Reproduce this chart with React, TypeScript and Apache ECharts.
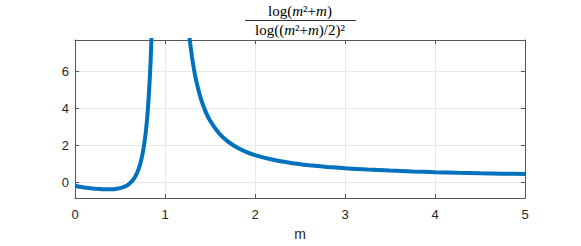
import React, { useEffect, useRef } from "react";
import * as echarts from "echarts";

// Left branch (m < 1)
const leftM = [0.005, 0.01, 0.02, 0.05, 0.1, 0.15, 0.2, 0.25, 0.3, 0.35, 0.4, 0.45, 0.5, 0.55, 0.6, 0.625, 0.65, 0.675, 0.7, 0.725, 0.75, 0.77, 0.79, 0.81, 0.83, 0.84, 0.85, 0.86];
const leftF = [-0.148, -0.164, -0.185, -0.222, -0.262, -0.293, -0.317, -0.338, -0.352, -0.36, -0.358, -0.34, -0.299, -0.22, -0.076, 0.034, 0.18, 0.377, 0.646, 1.015, 1.533, 2.104, 2.883, 3.968, 5.523, 6.555, 7.83, 9.41];
// Right branch (m > 1)
const rightM = [1.26, 1.27, 1.28, 1.3, 1.325, 1.35, 1.4, 1.45, 1.5, 1.6, 1.7, 1.8, 1.9, 2.0, 2.2, 2.4, 2.6, 2.8, 3.0, 3.25, 3.5, 3.75, 4.0, 4.25, 4.5, 4.75, 5.0];
const rightF = [8.38, 7.92, 7.5, 6.774, 6.029, 5.424, 4.503, 3.841, 3.345, 2.658, 2.208, 1.893, 1.662, 1.485, 1.232, 1.062, 0.939, 0.846, 0.774, 0.703, 0.647, 0.602, 0.565, 0.534, 0.507, 0.484, 0.464];

const xLabelName = "m";

export default function App() {
  const ref = useRef<HTMLDivElement>(null);
  useEffect(() => {
    if (!ref.current) return;
    const chart = echarts.init(ref.current, undefined, { renderer: "svg" });
    const axisColor = "#555555";
    const labelColor = "#262626";
    const gridColor = "#e8e8e8";
    const font = "Liberation Sans";
    const serif = "Liberation Serif";
    const lineColor = "#0072BD";
    chart.setOption({
      animation: false,
      grid: { left: 75, top: 40, width: 450, height: 159, containLabel: false },
      xAxis: [
        {
          type: "value",
          min: 0,
          max: 5,
          interval: 1,
          name: xLabelName,
          nameLocation: "middle",
          nameGap: 29,
          nameTextStyle: { color: labelColor, fontFamily: font, fontSize: 14 },
          axisLine: { show: true, onZero: false, lineStyle: { color: axisColor, width: 1 } },
          axisTick: { show: true, inside: true, length: 4, lineStyle: { color: axisColor } },
          axisLabel: { color: labelColor, fontFamily: font, fontSize: 13, margin: 10 },
          splitLine: { show: true, lineStyle: { color: gridColor, width: 1 } },
        },
        {
          type: "value",
          position: "top",
          min: 0,
          max: 5,
          interval: 1,
          axisLine: { show: true, onZero: false, lineStyle: { color: axisColor, width: 1 } },
          axisTick: { show: true, inside: true, length: 4, lineStyle: { color: axisColor } },
          axisLabel: { show: false },
          splitLine: { show: false },
        },
      ],
      yAxis: [
        {
          type: "value",
          min: -0.83,
          max: 7.69,
          splitNumber: 5,
          axisLine: { show: true, onZero: false, lineStyle: { color: axisColor, width: 1 } },
          axisTick: { show: true, inside: true, length: 4, lineStyle: { color: axisColor } },
          axisLabel: {
            color: labelColor,
            fontFamily: font,
            fontSize: 13,
            margin: 6,
            showMinLabel: false,
            showMaxLabel: false,
            formatter: (v: number) => (Math.abs(v - Math.round(v)) < 1e-6 ? String(Math.round(v)) : ""),
          },
          splitLine: { show: true, lineStyle: { color: gridColor, width: 1 } },
        },
        {
          type: "value",
          position: "right",
          min: -0.83,
          max: 7.69,
          splitNumber: 5,
          axisLine: { show: true, onZero: false, lineStyle: { color: axisColor, width: 1 } },
          axisTick: { show: true, inside: true, length: 4, lineStyle: { color: axisColor } },
          axisLabel: { show: false },
          splitLine: { show: false },
        },
      ],
      series: [
        {
          type: "line",
          xAxisIndex: 0,
          yAxisIndex: 0,
          data: leftM.map((m, i) => [m, leftF[i]]),
          showSymbol: false,
          smooth: 0.2,
          clip: true,
          lineStyle: { color: lineColor, width: 4 },
        },
        {
          type: "line",
          xAxisIndex: 0,
          yAxisIndex: 0,
          data: rightM.map((m, i) => [m, rightF[i]]),
          showSymbol: false,
          smooth: 0.2,
          clip: true,
          lineStyle: { color: lineColor, width: 4 },
        },
      ],
      graphic: [
        {
          type: "text",
          x: 300,
          y: 11,
          style: {
            text: "log({i|m}²+{i|m})",
            font: `15px "${serif}"`,
            fill: "#000",
            align: "center",
            verticalAlign: "middle",
            rich: { i: { fontStyle: "italic", fontFamily: serif, fontSize: 15 } },
          },
        },
        {
          type: "line",
          shape: { x1: 245, y1: 20.5, x2: 356, y2: 20.5 },
          style: { stroke: "#000", lineWidth: 0.8 },
        },
        {
          type: "text",
          x: 300,
          y: 30,
          style: {
            text: "log(({i|m}²+{i|m})/2)²",
            font: `15px "${serif}"`,
            fill: "#000",
            align: "center",
            verticalAlign: "middle",
            rich: { i: { fontStyle: "italic", fontFamily: serif, fontSize: 15 } },
          },
        },
      ],
    });
    return () => chart.dispose();
  }, []);
  return (
    <div
      ref={ref}
      style={{ position: "absolute", left: 0, top: 0, width: 581, height: 246, background: "#fff" }}
    />
  );
}
